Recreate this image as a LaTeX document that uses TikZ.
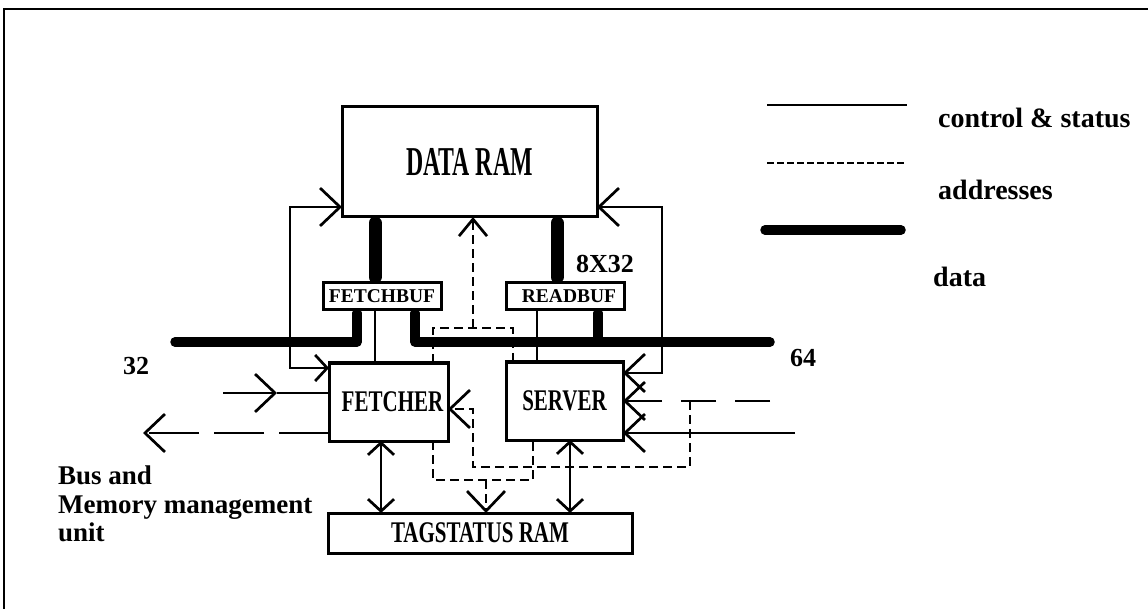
\documentclass[tikz,border=0pt]{standalone}
\usepackage{fontspec}
\setmainfont{Liberation Serif}
\usepackage{graphicx}
\usetikzlibrary{arrows.meta}
\newcommand{\boxlab}[3]{\scalebox{#1}[1]{\fontsize{#2}{#2}\selectfont\bfseries #3}}
\begin{document}
\begin{tikzpicture}[x=1pt,y=-1pt,
  ctl/.style={line width=2.7pt},
  sdash/.style={dash pattern=on 9pt off 5pt},
  ldash/.style={dash pattern=on 35pt off 19pt},
  bus/.style={line width=9.5pt, line cap=round, line join=round},
  dvert/.style={line width=13pt, line cap=round},
  box/.style={draw, line width=3pt, inner sep=0pt, outer sep=0pt, fill=white},
  lab/.style={inner sep=0pt, font=\fontsize{28}{28}\selectfont\bfseries},
  BT/.tip={Straight Barb[length=20pt,width=38pt]},
  MT/.tip={Straight Barb[length=17pt,width=28pt]},
  ST/.tip={Straight Barb[length=12pt,width=26pt]}
]
\useasboundingbox (0,0) rectangle (1148,609);
% frame
\draw[line width=2.8pt] (1148,9) -- (4,9) -- (4,609);

% boxes
\node[box, minimum width=255pt, minimum height=110pt] (dataram) at (469.5,162) {\boxlab{0.58}{41}{DATA RAM}};
\node[box, minimum width=118pt, minimum height=27pt] (fetchbuf) at (382,296.5) {\fontsize{19.5}{19.5}\selectfont\bfseries FETCHBUF};
\node[box, minimum width=118pt, minimum height=27pt] (readbuf) at (565,296.5) {\fontsize{19.5}{19.5}\selectfont\bfseries\hspace{8pt}READBUF};
\node[box, minimum width=119pt, minimum height=78pt] (fetcher) at (388.5,402) {\hspace{8pt}\boxlab{0.70}{30}{FETCHER}};
\node[box, minimum width=117pt, minimum height=78pt] (server) at (564.5,401) {\boxlab{0.70}{30}{SERVER}};
\node[box, minimum width=304pt, minimum height=40pt] (tag) at (480,533) {\boxlab{0.70}{30}{TAGSTATUS RAM}};

% helper coordinates
\coordinate (lf1) at (290,368); \coordinate (lf2) at (290,207);
\coordinate (rf1) at (662,207); \coordinate (rf2) at (662,373);
\coordinate (ua1) at (433,328); \coordinate (ua2) at (513,328); \coordinate (ua3) at (473,328);
\coordinate (la1) at (433,480); \coordinate (la2) at (533,480); \coordinate (la3) at (486,480);
\coordinate (ea1) at (770,401); \coordinate (ea2) at (690,401); \coordinate (ea3) at (690,467);
\coordinate (ea4) at (473,467); \coordinate (ea5) at (473,409);
\coordinate (ci1) at (795,433);
\coordinate (li1) at (223,393); \coordinate (li2) at (277,393);
\coordinate (lo1) at (143,433);
\coordinate (tb1) at (381,480); \coordinate (tb2) at (570,480);
\coordinate (th1) at (375,300); \coordinate (th2) at (537,300); \coordinate (dk2) at (557,300);
\coordinate (bl) at (175,342); \coordinate (bl2) at (357,342);
\coordinate (br1) at (415,342); \coordinate (br) at (770,342); \coordinate (rb) at (598,342);

% data paths
\draw[dvert] ([yshift=-6pt]dataram.south -| th1) -- ([yshift=6pt]fetchbuf.north -| th1);
\draw[dvert] ([yshift=-6pt]dataram.south -| dk2) -- ([yshift=6pt]readbuf.north -| dk2);
\draw[bus] (bl) -- (bl2) -- ([yshift=-3pt]fetchbuf.south -| bl2);
\draw[bus] ([yshift=-3pt]fetchbuf.south -| br1) -- (br1) -- (br);
\draw[bus] ([yshift=-3pt]readbuf.south -| rb) -- (rb);

% control & status
\draw[ctl] (fetchbuf.south -| th1) -- (fetcher.north -| th1);
\draw[ctl] (readbuf.south -| th2) -- (server.north -| th2);
\draw[ctl,{ST}-{BT}] (fetcher.west |- lf1) -- (lf1) -- (lf2) -- (dataram.west |- lf2);
\draw[ctl,{BT}-{BT}] (dataram.east |- rf1) -- (rf1) -- (rf2) -- (server.east |- rf2);
\draw[ctl,-{BT}] (ci1) -- (server.east |- ci1);
\draw[ctl,-{BT}] (li1) -- (li2);
\draw[ctl] (li2) -- (fetcher.west |- li2);
\draw[ctl,{ST}-{ST}] (fetcher.south -| tb1) -- (tag.north -| tb1);
\draw[ctl,{ST}-{ST}] (server.south -| tb2) -- (tag.north -| tb2);

% long dashed (external addresses)
\draw[ctl,ldash,-{BT}] (ea1) -- (server.east |- ea1);
\draw[ctl,dash pattern=on 50pt off 15pt,-{BT}] (fetcher.west |- lo1) -- (lo1);

% addresses
\draw[ctl,sdash] (fetcher.north -| ua1) -- (ua1) -- (ua2) -- (server.north -| ua2);
\draw[ctl,sdash,-{MT}] (ua3) -- (dataram.south -| ua3);
\draw[ctl,sdash] (fetcher.south -| la1) -- (la1) -- (la2) -- (server.south -| la2);
\draw[ctl,sdash,-{BT}] (la3) -- (tag.north -| la3);
\draw[ctl,sdash,-{BT}] (ea2) -- (ea3) -- (ea4) -- (ea5) -- (fetcher.east |- ea5);

% labels
\node[lab, font=\fontsize{26}{26}\selectfont\bfseries] (l832) at (605,264) {8X32};
\node[lab, font=\fontsize{26}{26}\selectfont\bfseries] (l32) at (136,366) {32};
\node[lab, font=\fontsize{26}{26}\selectfont\bfseries] (l64) at (803,358) {64};
\node[lab, font=\fontsize{27}{28.5}\selectfont\bfseries, align=left, anchor=north west] (bmu) at (58,466) {Bus and\\Memory management\\unit};

% legend
\coordinate (lg1a) at (767,105); \coordinate (lg1b) at (907,105);
\coordinate (lg2a) at (767,163); \coordinate (lg2b) at (907,163);
\coordinate (lg3a) at (765,230); \coordinate (lg3b) at (901,230);
\draw[ctl] (lg1a) -- (lg1b);
\draw[line width=2.7pt, dash pattern=on 7pt off 3pt] (lg2a) -- (lg2b);
\draw[bus] (lg3a) -- (lg3b);
\node[lab, anchor=west] (leg1) at (938,118) {control \& status};
\node[lab, anchor=west] (leg2) at (938,190) {addresses};
\node[lab, anchor=west] (leg3) at (933,277) {data};
\end{tikzpicture}
\end{document}
